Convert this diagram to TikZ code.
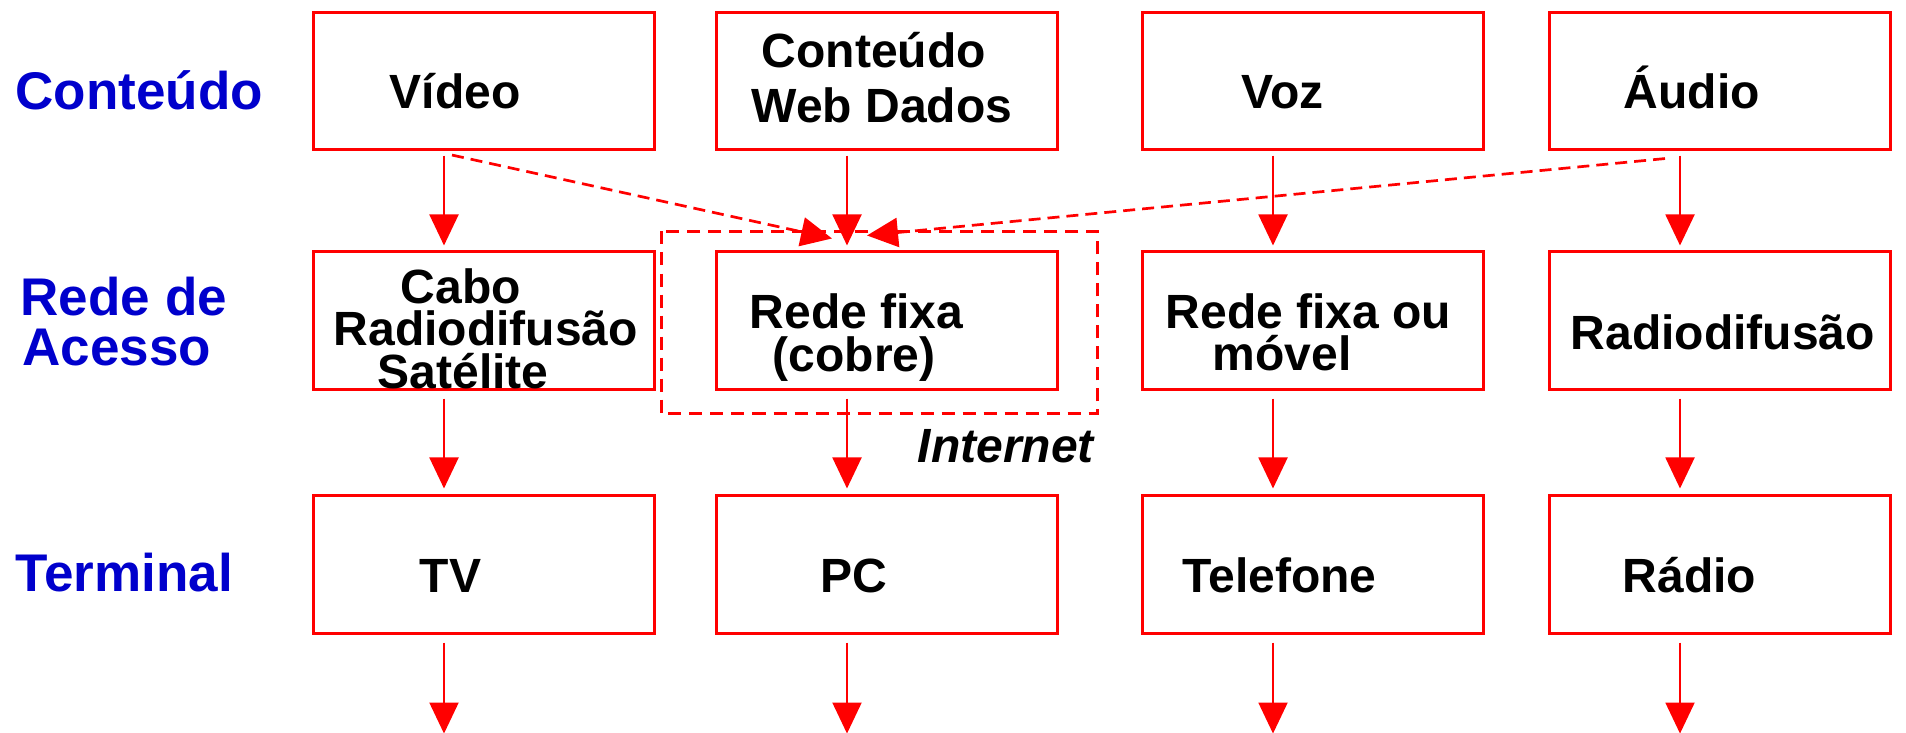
\documentclass[tikz,border=0pt]{standalone}
\usepackage{fontspec}
\setmainfont{Liberation Sans}
\usetikzlibrary{arrows.meta,positioning}
\definecolor{linkred}{RGB}{255,0,0}
\definecolor{layerblue}{RGB}{0,0,204}

\tikzset{
  mediabox/.style={draw=linkred, line width=0.03cm, minimum width=3.4cm, minimum height=1.37cm, inner sep=0pt},
  boxtext/.style={anchor=base west, inner sep=0pt, font=\fontsize{13.66pt}{16pt}\selectfont\bfseries},
  layertext/.style={anchor=base west, inner sep=0pt, text=layerblue, font=\fontsize{15.08pt}{18pt}\selectfont\bfseries},
  flow/.style={draw=linkred, line width=0.02cm, -{Triangle[length=3.1mm,width=2.9mm]}},
  altflow/.style={flow, line width=0.027cm, dash pattern=on 0.12cm off 0.07cm},
}

\begin{document}
\begin{tikzpicture}[x=0.01cm, y=-0.01cm]
    \useasboundingbox (0,0) rectangle (1906,732);

    % layer names on the left
    \node[layertext] (l-cont) at (15,109) {Conteúdo};
    \node[layertext] (l-rede) at (20,315) {Rede de};
    \node[layertext] (l-aces) at (22,365) {Acesso};
    \node[layertext] (l-term) at (15,591) {Terminal};

    % content
    \node[mediabox] (video) at (484,81) {};
    \node[mediabox] (web) at (887,81) {};
    \node[mediabox] (voz) at (1313,81) {};
    \node[mediabox] (audio) at (1720,81) {};
    % access networks
    \node[mediabox] (cabo) at (484,320.5) {};
    \node[mediabox] (fixa) at (887,320.5) {};
    \node[mediabox] (movel) at (1313,320.5) {};
    \node[mediabox] (radiodif) at (1720,320.5) {};
    % terminals
    \node[mediabox] (tv) at (484,564.5) {};
    \node[mediabox] (pc) at (887,564.5) {};
    \node[mediabox] (tel) at (1313,564.5) {};
    \node[mediabox] (radio) at (1720,564.5) {};

    \node[boxtext] (t-video) at (389,108) {Vídeo};
    \node[boxtext] (t-web1) at (761,67) {Conteúdo};
    \node[boxtext] (t-web2) at (751,122) {Web Dados};
    \node[boxtext] (t-voz) at (1241,108) {Voz};
    \node[boxtext] (t-audio) at (1623,108) {Áudio};

    \node[boxtext] (t-cabo1) at (400,303) {Cabo};
    \node[boxtext] (t-cabo2) at (333,345) {Radiodifusão};
    \node[boxtext] (t-cabo3) at (377,388) {Satélite};
    \node[boxtext] (t-fixa1) at (749,328) {Rede fixa};
    \node[boxtext] (t-fixa2) at (772,371) {(cobre)};
    \node[boxtext] (t-movel1) at (1165,328) {Rede fixa ou};
    \node[boxtext] (t-movel2) at (1212,370) {móvel};
    \node[boxtext] (t-radiodif) at (1570,349) {Radiodifusão};

    \node[boxtext] (t-tv) at (419,592) {TV};
    \node[boxtext] (t-pc) at (820,592) {PC};
    \node[boxtext] (t-tel) at (1182,592) {Telefone};
    \node[boxtext] (t-radio) at (1622,592) {Rádio};

    % internet around the fixed line
    \draw[linkred, line width=0.03cm, dash pattern=on 0.13cm off 0.08cm]
        ([shift={(-54,-19)}]fixa.north west) rectangle ([shift={(39,23)}]fixa.south east);
    \node[boxtext, font=\fontsize{13.66pt}{16pt}\selectfont\bfseries\itshape] (t-net) at (917,462) {Internet};

    % vertical flows
    \foreach \a/\b in {video/cabo, web/fixa, voz/movel, audio/radiodif}
        \draw[flow] ([shift={(-40,4.5)}]\a.south) -- ([shift={(-40,-5)}]\b.north);
    \foreach \a/\b in {cabo/tv, fixa/pc, movel/tel, radiodif/radio}
        \draw[flow] ([shift={(-40,8)}]\a.south) -- ([shift={(-40,-6)}]\b.north);
    \foreach \a in {tv, pc, tel, radio} {
        \coordinate (\a-out) at ([shift={(-40,99)}]\a.south);
        \draw[flow] ([shift={(-40,8)}]\a.south) -- (\a-out);
    }

    % video and audio also over the internet
    \draw[altflow] ([shift={(-32,4)}]video.south) -- ([shift={(-55,-12)}]fixa.north);
    \draw[altflow] ([shift={(-55,7.5)}]audio.south) -- ([shift={(-20,-15)}]fixa.north);
\end{tikzpicture}
\end{document}
